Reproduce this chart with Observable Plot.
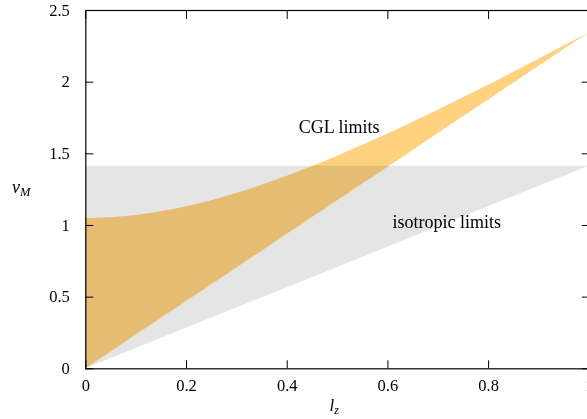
<!DOCTYPE html>
<html>
<head>
<meta charset="utf-8">
<script src="https://cdn.jsdelivr.net/npm/d3@7"></script>
<script src="https://cdn.jsdelivr.net/npm/@observablehq/plot@0.6"></script>
<style>
html, body { margin: 0; padding: 0; background: white; overflow: hidden; }
#chart svg { overflow: visible; }
</style>
</head>
<body>
<div id="chart"></div>
<script>
// Isotropic limits (gray region)
const isoX = [0, 1];
const isoLow = [0, 1.414];
const isoHigh = [1.414, 1.414];

// CGL limits (orange region)
const cglX = [0, 0.05, 0.1, 0.15, 0.2, 0.25, 0.3, 0.35, 0.4, 0.45, 0.5, 0.55, 0.6, 0.65, 0.7, 0.75, 0.8, 0.85, 0.9, 0.95, 1.0];
const cglLow = [0, 0.117, 0.235, 0.352, 0.469, 0.586, 0.704, 0.821, 0.938, 1.055, 1.173, 1.290, 1.407, 1.524, 1.642, 1.759, 1.876, 1.993, 2.111, 2.228, 2.345];
const cglHigh = [1.049, 1.054, 1.070, 1.095, 1.130, 1.173, 1.223, 1.280, 1.343, 1.411, 1.483, 1.559, 1.638, 1.720, 1.804, 1.891, 1.979, 2.069, 2.160, 2.252, 2.345];

// Annotations
const labels = ["CGL limits", "isotropic limits"];
const labelX = [0.423, 0.609];
const labelY = [1.684, 1.023];

// Ticks
const xTicks = [0, 0.2, 0.4, 0.6, 0.8, 1];
const yTicks = [0, 0.5, 1, 1.5, 2, 2.5];

const iso = isoX.map((x, i) => ({x, y1: isoLow[i], y2: isoHigh[i]}));
const cgl = cglX.map((x, i) => ({x, y1: cglLow[i], y2: cglHigh[i]}));
const ann = labels.map((t, i) => ({t, x: labelX[i], y: labelY[i]}));

const font = "Liberation Serif";

const plot = Plot.plot({
  width: 587,
  height: 419,
  marginLeft: 85.3,
  marginRight: -1.8,
  marginTop: 10,
  marginBottom: 50.7,
  style: {fontFamily: font, fontSize: "16.5px", color: "black", background: "white"},
  x: {domain: [0, 1]},
  y: {domain: [0, 2.5]},
  marks: [
    Plot.areaY(iso, {x: "x", y1: "y1", y2: "y2", fill: "#e5e5e5"}),
    Plot.areaY(cgl, {x: "x", y1: "y1", y2: "y2", fill: "#ffd27f", curve: "monotone-x", mixBlendMode: "multiply"}),
    Plot.text(ann, {x: "x", y: "y", text: "t", textAnchor: "start", lineAnchor: "middle", fontSize: 18, fill: "black"}),
    Plot.axisX({anchor: "bottom", ticks: xTicks, tickSize: -8, tickPadding: 18, tickFormat: d => String(d), label: null, fontSize: 16.5}),
    Plot.axisX({anchor: "top", ticks: xTicks, tickSize: -8, tickFormat: () => "", label: null}),
    Plot.axisY({anchor: "left", ticks: yTicks, tickSize: -8, tickPadding: 24, tickFormat: d => String(d), label: null, fontSize: 16.5}),
    Plot.axisY({anchor: "right", ticks: yTicks, tickSize: -8, tickFormat: () => "", label: null}),
    Plot.frame({stroke: "black", strokeWidth: 1.2})
  ]
});

document.getElementById("chart").appendChild(plot);

const svg = d3.select(plot);
const xl = svg.append("text").attr("x", 329.5).attr("y", 410.5).attr("text-anchor", "start")
  .attr("font-family", font).attr("font-size", 17).attr("font-style", "italic").attr("fill", "black");
xl.append("tspan").text("l");
xl.append("tspan").attr("dy", 3).attr("font-size", 12).text("z");

const yl = svg.append("text").attr("x", 12).attr("y", 193).attr("text-anchor", "start")
  .attr("font-family", font).attr("font-size", 18).attr("font-style", "italic").attr("fill", "black");
yl.append("tspan").text("v");
yl.append("tspan").attr("dy", 3).attr("font-size", 12.5).text("M");
</script>
</body>
</html>
